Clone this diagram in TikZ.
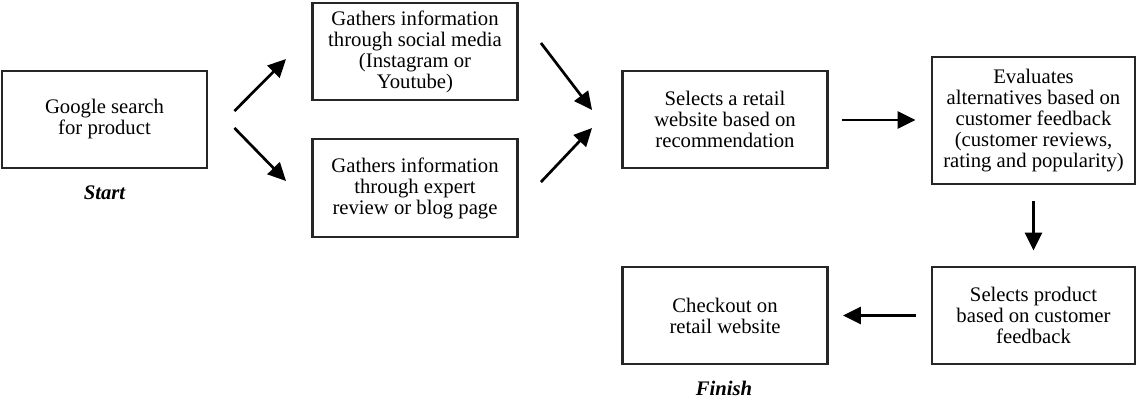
\documentclass[tikz,border=0pt]{standalone}
\usepackage{fontspec}
\setmainfont{Liberation Serif}
\usetikzlibrary{arrows.meta,calc}
\begin{document}
\begin{tikzpicture}[x=1pt,y=-1pt,
  box/.style={draw=black!85,line width=2.9pt,minimum width=#1,align=center,
    font=\fontsize{20.7}{21}\selectfont,inner sep=0pt},
  box/.default=205pt,
  arr/.style={line width=2.7pt,-{Triangle[length=18pt,width=17pt]}},
  lab/.style={font=\fontsize{20.7}{21}\selectfont\bfseries\itshape}]
\useasboundingbox (0,0) rectangle (1137,402);
\node[box,minimum height=97pt] (G) at (104.5,119.5) {Google search\\for product};
\node[box,minimum height=97pt] (S) at (415,51.5) {Gathers information\\through social media\\(Instagram or\\Youtube)};
\node[box,minimum height=98pt] (E) at (415,188) {Gathers information\\through expert\\review or blog page};
\node[box,minimum height=97pt] (R) at (725,119.5) {Selects a retail\\website based on\\recommendation};
\node[box=203pt,minimum height=127pt] (V) at (1033.5,120.5) {Evaluates\\alternatives based on\\customer feedback\\(customer reviews,\\rating and popularity)};
\node[box=203pt,minimum height=97pt] (P) at (1033.5,315.5) {Selects product\\based on customer\\feedback};
\node[box,minimum height=97pt] (C) at (725,315.5) {Checkout on\\retail website};
\node[lab] (st) at (104.5,193) {Start};
\node[lab] (fi) at (724,388) {Finish};
\draw[arr] ($(G.east)+(26,-8.5)$) -- ($(S.west)+(-25,7.5)$);
\draw[arr] ($(G.east)+(26,8.5)$) -- ($(E.west)+(-25,-7)$);
\draw[arr] ($(S.east)+(22,-8.5)$) -- ($(R.west)+(-29,-9.5)$);
\draw[arr] ($(E.east)+(22,-6)$) -- ($(R.west)+(-29,8.5)$);
\draw[arr] ($(R.east)+(13,0.5)$) -- ($(V.west)+(-15,-0.5)$);
\draw[arr] ($(V.south)+(0,16)$) -- ($(P.north)+(0,-15)$);
\draw[arr] ($(P.west)+(-15,0)$) -- ($(C.east)+(14,0)$);
\end{tikzpicture}
\end{document}
